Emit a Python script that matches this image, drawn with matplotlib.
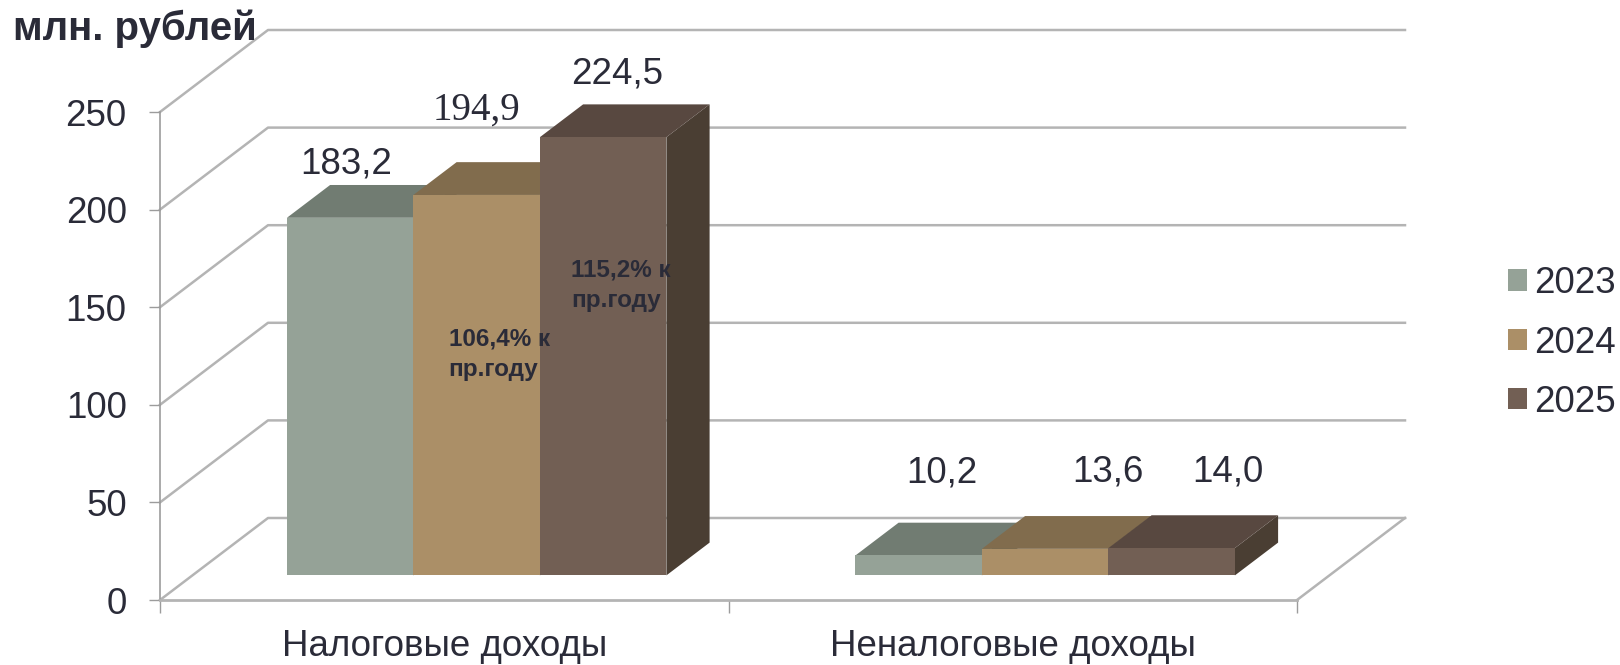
import numpy as np
from matplotlib import pyplot as plt
from matplotlib.patches import Polygon, Patch

plt.rcParams['font.family'] = ['Liberation Sans', 'DejaVu Sans']

categories = ['Налоговые доходы', 'Неналоговые доходы']
years = ['2023', '2024', '2025']
values_2023 = [183.2, 10.2]
values_2024 = [194.9, 13.6]
values_2025 = [224.5, 14.0]
value_labels_2023 = ['183,2', '10,2']
value_labels_2024 = ['194,9', '13,6']
value_labels_2025 = ['224,5', '14,0']
y_ticks = [0, 50, 100, 150, 200, 250]

front_colors = ['#95a297', '#ab8f67', '#725f54']
top_colors = ['#717c72', '#816c4d', '#584840']
side_colors = ['#5f695f', '#6e5c42', '#4a3e33']
text_color = '#2a2b38'
grid_color = '#b4b4b4'
tick_color = '#9c9c9c'

# the floor goes back this far, in data units (108 px and 82 px on the picture)
depth_x = 108 / 568.5
depth_y = 82 / 1.952
bar_width = 126.5 / 568.5
depth_front = 0.3
depth_back = 0.7

# label shifts in pixels from the middle of the bar's front top edge
label_shifts = [[(-4, 54), (23, 82)], [(0, 85), (63, 77)], [(14, 63), (56, 76)]]


def project(x, y, depth):
    return (x + depth * depth_x, y + depth * depth_y)


def draw_wall(ax):
    for v in y_ticks:
        pts = [project(0, v, 0), project(0, v, 1), project(2, v, 1)]
        ax.plot(*zip(*pts), color=grid_color, lw=1.8, zorder=1, clip_on=False)
    pts = [project(2, 0, 0), project(2, 0, 1)]
    ax.plot(*zip(*pts), color=grid_color, lw=1.8, zorder=1, clip_on=False)


def draw_bar(ax, left, value, i):
    right = left + bar_width
    a = project(left, 0, depth_front)
    b = project(right, 0, depth_front)
    c = project(right, value, depth_front)
    d = project(left, value, depth_front)
    e = project(left, value, depth_back)
    f = project(right, value, depth_back)
    g = project(right, 0, depth_back)
    ax.add_patch(Polygon([b, g, f, c], facecolor=side_colors[i], edgecolor='none', zorder=3, clip_on=False))
    ax.add_patch(Polygon([d, c, f, e], facecolor=top_colors[i], edgecolor='none', zorder=3, clip_on=False))
    ax.add_patch(Polygon([a, b, c, d], facecolor=front_colors[i], edgecolor='none', zorder=3, clip_on=False))
    return (project(left + bar_width / 2, value, depth_front))


def main():
    fig = plt.figure(figsize=(16.2, 6.65), dpi=100)
    ax = fig.add_axes([160 / 1620, 65 / 665, 1137 / 1620, 488 / 665])
    ax.set_xlim(0, 2)
    ax.set_ylim(0, 250)

    for name in ['top', 'right']:
        ax.spines[name].set_visible(False)
    ax.spines['left'].set_color(tick_color)
    ax.spines['left'].set_linewidth(1.2)
    ax.spines['bottom'].set_color(grid_color)
    ax.spines['bottom'].set_linewidth(2.0)

    ax.set_yticks(y_ticks)
    ax.tick_params(axis='y', length=8, width=1.0, color=tick_color, labelsize=26.5, labelcolor=text_color, pad=16)
    ax.set_xticks([0, 1, 2])
    ax.set_xticklabels([])
    ax.set_xticks([0.5, 1.5], minor=True)
    ax.set_xticklabels(categories, minor=True)
    ax.tick_params(axis='x', which='major', length=9, width=1.0, color=tick_color)
    ax.tick_params(axis='x', which='minor', length=0, labelsize=26.5, labelcolor=text_color, pad=21)

    draw_wall(ax)

    series = [values_2023, values_2024, values_2025]
    labels = [value_labels_2023, value_labels_2024, value_labels_2025]
    tops = {}
    for i in range(3):
        for j in range(2):
            left = j + 0.5 + (i - 1.5) * bar_width
            top = draw_bar(ax, left, series[i][j], i)
            tops[(i, j)] = top
            serif = (i, j) == (1, 0)
            ax.annotate(labels[i][j], xy=top, xytext=label_shifts[i][j], textcoords='offset pixels',
                        ha='center', va='center', fontsize=28 if serif else 26.5, color=text_color,
                        family='Liberation Serif' if serif else 'Liberation Sans',
                        zorder=6, annotation_clip=False)

    # notes on the bars
    ax.annotate('106,4% к\nпр.году', xy=tops[(1, 0)], xytext=(-28, -159), textcoords='offset pixels',
                ha='left', va='center', fontsize=17.5, fontweight='bold', color=text_color,
                linespacing=1.4, zorder=6, annotation_clip=False)
    ax.annotate('115,2% к\nпр.году', xy=tops[(2, 0)], xytext=(-32, -148), textcoords='offset pixels',
                ha='left', va='center', fontsize=17.5, fontweight='bold', color=text_color,
                linespacing=1.4, zorder=6, annotation_clip=False)

    fig.text(13 / 1620, 1 - 29 / 665, 'млн. рублей', ha='left', va='center', fontsize=29,
             fontweight='bold', color=text_color)

    handles = [Patch(facecolor=c, edgecolor='none') for c in front_colors]
    fig.legend(handles, years, loc='center left', bbox_to_anchor=(1508 / 1620, 1 - 343 / 665),
               frameon=False, fontsize=26.5, labelcolor=text_color, handlelength=0.52, handleheight=0.52,
               handletextpad=0.18, labelspacing=0.66, borderpad=0, borderaxespad=0)

    fig.savefig('out.png', dpi=100, facecolor='white')


if __name__ == '__main__':
    main()
